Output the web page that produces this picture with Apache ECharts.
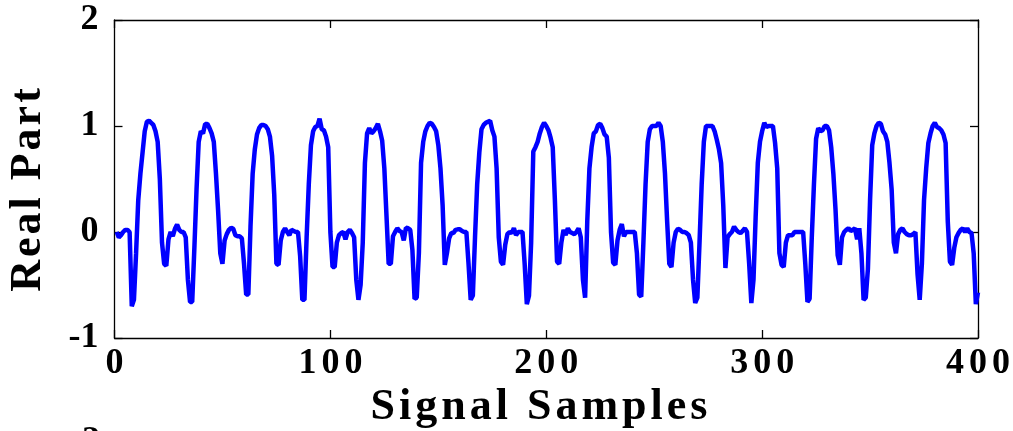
<!DOCTYPE html>
<html>
<head>
<meta charset="utf-8">
<script src="https://cdn.jsdelivr.net/npm/echarts@6/dist/echarts.min.js"></script>
<style>
  html, body { margin: 0; padding: 0; background: #fff; }
  #chart { width: 1013px; height: 431px; }
</style>
</head>
<body>
<div id="chart"></div>
<script>
// Real part of the received signal, samples 1..400
const realPart = [
  0.00, -0.05, -0.03, 0.00, 0.02, 0.02, 0.00, -0.70, -0.64, -0.20,
  0.30, 0.55, 0.75, 0.95, 1.04, 1.05, 1.03, 1.01, 0.95, 0.85,
  0.50, -0.10, -0.30, -0.32, -0.07, 0.00, -0.04, 0.03, 0.07, 0.02,
  0.00, 0.00, -0.05, -0.45, -0.66, -0.66, -0.15, 0.40, 0.85, 0.95,
  0.93, 1.02, 1.02, 0.98, 0.93, 0.85, 0.55, 0.20, -0.20, -0.30,
  -0.08, -0.02, 0.02, 0.04, 0.03, -0.03, -0.04, -0.04, -0.06, -0.30,
  -0.59, -0.59, 0.05, 0.55, 0.78, 0.92, 0.98, 1.01, 1.01, 1.00,
  0.97, 0.90, 0.72, 0.35, -0.30, -0.31, -0.08, 0.00, 0.035, 0.00,
  -0.03, 0.02, 0.01, 0.00, 0.00, -0.23, -0.64, -0.64, -0.05, 0.45,
  0.82, 0.95, 0.99, 1.00, 1.07, 0.97, 0.96, 0.90, 0.80, 0.00,
  -0.33, -0.33, -0.10, -0.03, -0.01, 0.00, -0.07, 0.00, 0.02, -0.01,
  -0.05, -0.45, -0.64, -0.50, -0.10, 0.65, 0.93, 0.98, 0.93, 0.95,
  0.98, 1.02, 0.95, 0.86, 0.60, 0.15, -0.30, -0.30, -0.04, 0.00,
  0.035, 0.01, 0.00, -0.08, 0.04, 0.035, 0.02, -0.17, -0.63, -0.62,
  -0.20, 0.65, 0.85, 0.95, 1.00, 1.03, 1.02, 0.99, 0.95, 0.82,
  0.60, 0.25, -0.31, -0.20, -0.06, -0.01, -0.01, 0.02, 0.025, 0.025,
  0.01, 0.00, 0.00, -0.30, -0.64, -0.60, -0.05, 0.45, 0.75, 0.97,
  1.01, 1.03, 1.04, 1.05, 0.96, 0.90, 0.60, -0.05, -0.28, -0.31,
  -0.12, -0.02, 0.00, -0.01, 0.035, -0.03, 0.00, 0.00, 0.00, -0.30,
  -0.68, -0.60, -0.10, 0.76, 0.80, 0.85, 0.93, 0.99, 1.03, 1.00,
  0.96, 0.89, 0.80, 0.30, -0.28, -0.30, -0.10, 0.02, -0.03, 0.035,
  0.00, -0.01, -0.02, 0.00, 0.035, -0.05, -0.45, -0.62, 0.10, 0.60,
  0.80, 0.93, 0.95, 1.01, 1.02, 0.98, 0.92, 0.90, 0.70, 0.00,
  -0.29, -0.31, -0.08, 0.02, 0.075, -0.04, 0.00, 0.00, 0.00, 0.00,
  0.00, -0.20, -0.59, -0.61, -0.10, 0.45, 0.85, 0.97, 1.00, 1.00,
  1.00, 1.03, 1.00, 0.85, 0.55, 0.10, -0.30, -0.33, -0.10, 0.00,
  0.03, 0.02, 0.00, 0.00, -0.01, -0.03, -0.10, -0.45, -0.67, -0.62,
  -0.10, 0.45, 0.85, 1.00, 1.00, 1.00, 1.00, 0.95, 0.87, 0.78,
  0.65, 0.25, -0.34, -0.05, -0.02, 0.00, 0.05, 0.02, 0.00, -0.01,
  0.01, 0.035, 0.00, -0.30, -0.67, -0.45, 0.14, 0.65, 0.85, 0.95,
  1.03, 0.99, 1.00, 1.00, 1.00, 0.84, 0.60, -0.20, -0.31, -0.33,
  -0.10, -0.03, -0.03, -0.03, 0.00, 0.00, 0.00, 0.00, 0.00, -0.30,
  -0.66, -0.63, -0.05, 0.45, 0.88, 0.98, 0.95, 0.96, 1.00, 1.00,
  0.96, 0.80, 0.55, 0.21, -0.22, -0.31, -0.05, 0.00, 0.02, 0.035,
  0.01, 0.02, 0.035, -0.07, 0.035, -0.20, -0.64, -0.62, -0.35, 0.30,
  0.82, 0.93, 1.00, 1.03, 1.02, 0.95, 0.92, 0.85, 0.65, 0.40,
  -0.10, -0.20, -0.02, 0.02, 0.035, 0.00, -0.02, -0.03, -0.03, -0.02,
  0.00, -0.40, -0.64, -0.30, 0.30, 0.60, 0.84, 0.93, 1.00, 1.03,
  0.99, 0.98, 0.96, 0.92, 0.84, 0.10, -0.28, -0.31, -0.15, -0.05,
  -0.01, 0.02, 0.035, 0.00, 0.035, 0.00, -0.01, -0.20, -0.68, -0.57
];

// Axis ticks and their labels
const xTicks = [0, 100, 200, 300, 400];
const xTickLabels = ['0', '100', '200', '300', '400'];
const yTicks = [-1, 0, 1, 2];
const yTickLabels = ['-1', '0', '1', '2'];
const xTitle = 'Signal Samples';
const yTitle = 'Real Part';

const FONT = "'Liberation Serif', 'Times New Roman', serif";

// wrap every character in a rich-text segment so the letters get extra tracking
function tracked(str, key) {
  return str.split('').map(ch => '{' + key + '|' + ch + '}').join('');
}

const seriesData = realPart.map((v, i) => [i + 1, v]);

const chart = echarts.init(document.getElementById('chart'), null, { renderer: 'canvas' });

const axisLineStyle = { color: '#000', width: 1.3 };

chart.setOption({
  animation: false,
  backgroundColor: '#fff',
  grid: { left: 114.5, right: 33.5, top: 20, bottom: 93, containLabel: false },
  xAxis: [
    {
      type: 'value', min: 0, max: 400, interval: 100, position: 'bottom',
      axisLine: { show: true, onZero: false, lineStyle: axisLineStyle },
      axisTick: { show: true, inside: true, length: 8, lineStyle: axisLineStyle },
      splitLine: { show: false },
      axisLabel: {
        margin: 8,
        formatter: v => tracked(xTickLabels[xTicks.indexOf(v)] || '', 'd'),
        rich: { d: { fontFamily: FONT, fontWeight: 'bold', fontSize: 36, color: '#000', padding: [0, 2.5, 0, 2.5] } }
      }
    },
    {
      type: 'value', min: 0, max: 400, interval: 100, position: 'top',
      axisLine: { show: true, onZero: false, lineStyle: axisLineStyle },
      axisTick: { show: true, inside: true, length: 8, lineStyle: axisLineStyle },
      splitLine: { show: false },
      axisLabel: { show: false }
    }
  ],
  yAxis: [
    {
      type: 'value', min: -1, max: 2, interval: 1, position: 'left',
      axisLine: { show: true, onZero: false, lineStyle: axisLineStyle },
      axisTick: { show: true, inside: true, length: 8, lineStyle: axisLineStyle },
      splitLine: { show: false },
      axisLabel: {
        margin: 16,
        formatter: v => yTickLabels[yTicks.indexOf(v)] || '',
        fontFamily: FONT, fontWeight: 'bold', fontSize: 36, color: '#000'
      }
    },
    {
      type: 'value', min: -1, max: 2, interval: 1, position: 'right',
      axisLine: { show: true, onZero: false, lineStyle: axisLineStyle },
      axisTick: { show: true, inside: true, length: 8, lineStyle: axisLineStyle },
      splitLine: { show: false },
      axisLabel: { show: false }
    }
  ],
  graphic: [
    {
      type: 'text', x: 539, y: 408,
      style: {
        text: tracked(xTitle, 't'),
        rich: { t: { fontFamily: FONT, fontWeight: 'bold', fontSize: 44, fill: '#000', padding: [0, 2, 0, 2] } },
        align: 'center', verticalAlign: 'middle', textAlign: 'center', textVerticalAlign: 'middle'
      }
    },
    {
      type: 'text', x: 29, y: 190, rotation: Math.PI / 2,
      style: {
        text: tracked(yTitle, 't'),
        rich: { t: { fontFamily: FONT, fontWeight: 'bold', fontSize: 44, fill: '#000', padding: [0, 1.5, 0, 1.5] } },
        align: 'center', verticalAlign: 'middle', textAlign: 'center', textVerticalAlign: 'middle'
      }
    },
    {
      // top of the next panel's upper y label
      type: 'text', x: 91, y: 424,
      style: {
        text: '2', fontFamily: FONT, fontWeight: 'bold', fontSize: 36, fill: '#000',
        align: 'center', verticalAlign: 'top', textAlign: 'center', textVerticalAlign: 'top'
      }
    }
  ],
  series: [
    {
      type: 'line',
      xAxisIndex: 0, yAxisIndex: 0,
      data: seriesData,
      showSymbol: false,
      symbol: 'none',
      lineStyle: { color: '#0000ff', width: 4.5 },
      clip: false
    }
  ]
});
</script>
</body>
</html>
